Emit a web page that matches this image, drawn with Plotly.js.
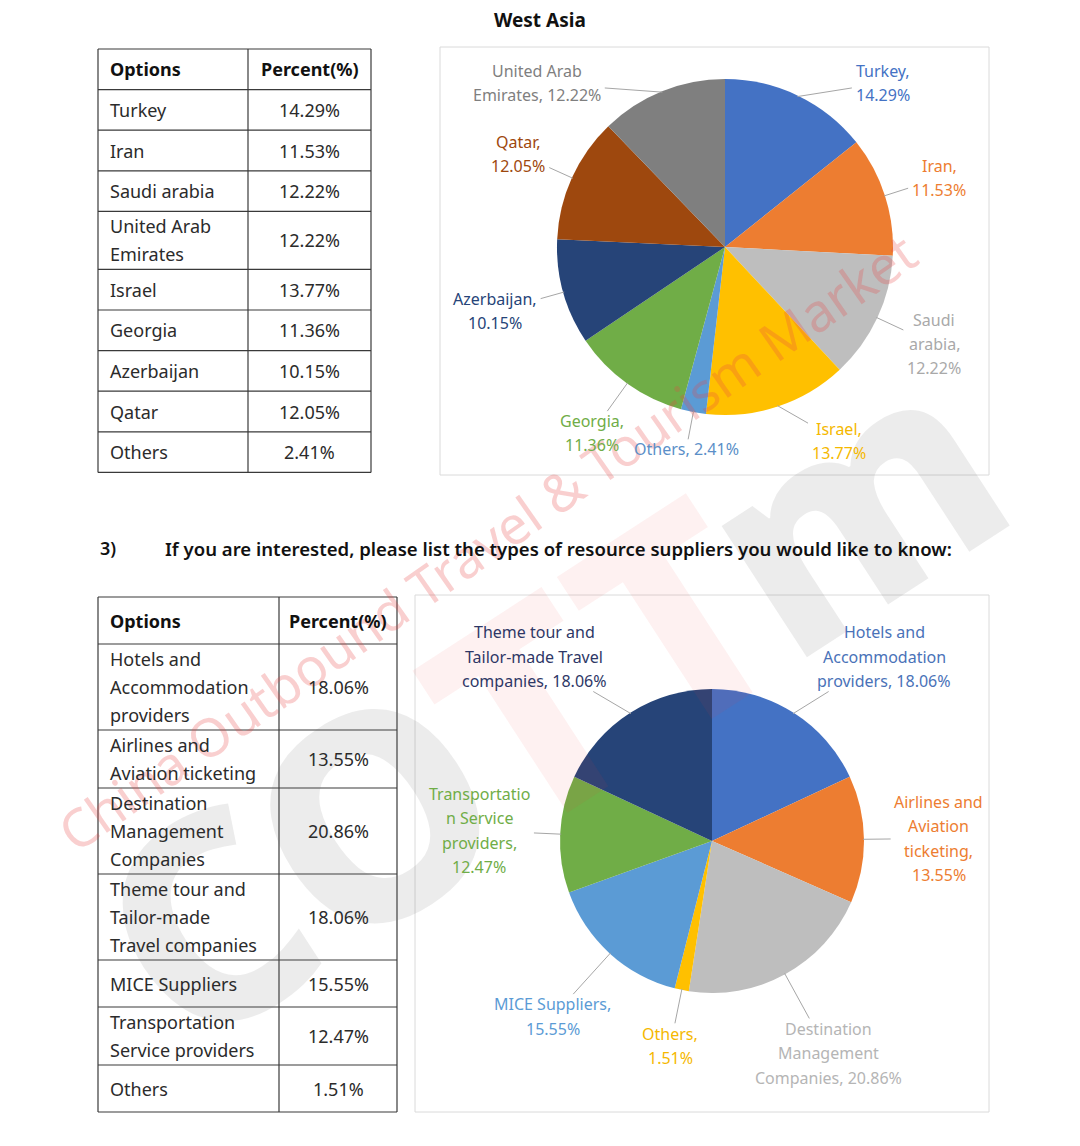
<!DOCTYPE html>
<html>
<head>
<meta charset="utf-8">
<script src="https://cdn.plot.ly/plotly-3.0.1.min.js"></script>
<style>html,body{margin:0;padding:0;background:#ffffff;}</style>
</head>
<body>
<div id="chart" style="width:1080px;height:1146px;"></div>
<script>
// ================= DATA =================
const pageTitle = 'West Asia';
const questionNumber = '3)';
const questionText = 'If you are interested, please list the types of resource suppliers you would like to know:';
const tableHeader = ['Options', 'Percent(%)'];
const watermarkText = 'China Outbound Travel & Tourism Market';

// West Asia – table (table order)
const westTableOptions = ['Turkey', 'Iran', 'Saudi arabia', 'United Arab<br>Emirates', 'Israel', 'Georgia', 'Azerbaijan', 'Qatar', 'Others'];
const westTableValues  = [14.29, 11.53, 12.22, 12.22, 13.77, 11.36, 10.15, 12.05, 2.41];

// West Asia – pie (clockwise from 12 o'clock)
const westPieNames  = ['Turkey', 'Iran', 'Saudi arabia', 'Israel', 'Others', 'Georgia', 'Azerbaijan', 'Qatar', 'United Arab Emirates'];
const westPieValues = [14.29, 11.53, 12.22, 13.77, 2.41, 11.36, 10.15, 12.05, 12.22];
const westPieLabels = ['Turkey,<br>', 'Iran,<br>', 'Saudi<br>arabia,<br>', 'Israel,<br>', 'Others, ', 'Georgia,<br>', 'Azerbaijan,<br>', 'Qatar,<br>', 'United Arab<br>Emirates, '];
const westPieColors = ['#4472C4', '#ED7D31', '#BEBEBE', '#FFC000', '#5B9BD5', '#70AD47', '#264478', '#9E480E', '#7F7F7F'];
const westLabelColors = ['#4472C4', '#ED7D31', '#A9A9A9', '#F5B800', '#5B8FC8', '#70AD47', '#264478', '#9E480E', '#7F7F7F'];

// Resource suppliers – table (table order)
const supTableOptions = ['Hotels and<br>Accommodation<br>providers', 'Airlines and<br>Aviation ticketing', 'Destination<br>Management<br>Companies', 'Theme tour and<br>Tailor-made<br>Travel companies', 'MICE Suppliers', 'Transportation<br>Service providers', 'Others'];
const supTableValues  = [18.06, 13.55, 20.86, 18.06, 15.55, 12.47, 1.51];

// Resource suppliers – pie (clockwise from 12 o'clock)
const supPieNames  = ['Hotels and Accommodation providers', 'Airlines and Aviation ticketing', 'Destination Management Companies', 'Others', 'MICE Suppliers', 'Transportation Service providers', 'Theme tour and Tailor-made Travel companies'];
const supPieValues = [18.06, 13.55, 20.86, 1.51, 15.55, 12.47, 18.06];
const supPieLabels = ['Hotels and<br>Accommodation<br>providers, ', 'Airlines and<br>Aviation<br>ticketing,<br>', 'Destination<br>Management<br>Companies, ', 'Others,<br>', 'MICE Suppliers,<br>', 'Transportatio<br>n Service<br>providers,<br>', 'Theme tour and<br>Tailor-made Travel<br>companies, '];
const supPieColors = ['#4472C4', '#ED7D31', '#BEBEBE', '#FFC000', '#5B9BD5', '#70AD47', '#264478'];
const supLabelColors = ['#4A72B8', '#ED7D31', '#B5B5B5', '#F5B800', '#5B9BD5', '#70AD47', '#2E3766'];

// ================= LAYOUT HELPERS =================
const W = 1080, H = 1146;
const X = px => px / W;
const Y = py => 1 - py / H;
const fmt = v => v.toFixed(2) + '%';
const FONT = '"Noto Sans", "DejaVu Sans", sans-serif';

const ctx = document.createElement('canvas').getContext('2d');
function textW(s, size, weight) {
  ctx.font = (weight || 400) + ' ' + size + 'px "Noto Sans"';
  return ctx.measureText(s).width;
}

const shapes = [];
const annotations = [];

function addText(px, py, text, size, color, weight, xanchor) {
  annotations.push({
    xref: 'paper', yref: 'paper', x: X(px), y: Y(py),
    xanchor: xanchor || 'center', yanchor: 'middle',
    text: text, showarrow: false,
    font: {family: FONT, size: size, color: color, weight: weight || 400}
  });
}
function addLine(x0, y0, x1, y1, color, width) {
  shapes.push({type: 'line', xref: 'paper', yref: 'paper', x0: X(x0), y0: Y(y0), x1: X(x1), y1: Y(y1),
    line: {color: color, width: width}});
}
function addRect(x0, y0, x1, y1, color, width) {
  shapes.push({type: 'rect', xref: 'paper', yref: 'paper', x0: X(x0), y0: Y(y0), x1: X(x1), y1: Y(y1),
    line: {color: color, width: width}, fillcolor: 'rgba(0,0,0,0)', layer: 'below'});
}

// ---- watermark ----
annotations.push({
  xref: 'paper', yref: 'paper', x: X(545), y: Y(695), xanchor: 'center', yanchor: 'middle', showarrow: false,
  textangle: -33,
  text: "<span style='color:rgba(110,110,110,0.36)'>CO</span><span style='color:rgba(235,60,60,0.20)'>TT</span><span style='color:rgba(110,110,110,0.36)'>m</span>",
  font: {family: FONT, size: 285, weight: 800, color: 'rgba(110,110,110,0.36)'}
});
annotations.push({
  xref: 'paper', yref: 'paper', x: X(487), y: Y(542), xanchor: 'center', yanchor: 'middle', showarrow: false,
  textangle: -35, text: watermarkText,
  font: {family: FONT, size: 53, color: 'rgba(232,70,70,0.26)'}
});

// ---- tables ----
function drawTable(tb, options, values) {
  const rows = [[tableHeader[0], tableHeader[1], true]].concat(options.map((o, i) => [o, fmt(values[i]), false]));
  let y = tb.y0;
  const bounds = [y];
  rows.forEach(r => {
    const lines = r[0].split('<br>');
    const h = Math.max(tb.minH, 2 + tb.lineH * lines.length);
    const mid = y + h / 2;
    const col = r[2] ? '#111111' : '#2b2b2b';
    lines.forEach((ln, k) => {
      addText(tb.x0 + 10, mid + (k - (lines.length - 1) / 2) * tb.lineH, ln, tb.size, col, r[2] ? 700 : 400, 'left');
    });
    addText((tb.xd + tb.x1) / 2, mid, r[1], tb.size, col, r[2] ? 700 : 400, 'center');
    y += h;
    bounds.push(y);
  });
  bounds.forEach(b => addLine(tb.x0, b, tb.x1, b, '#3a3a3a', 1.2));
  addLine(tb.x0, tb.y0, tb.x0, y, '#3a3a3a', 1.2);
  addLine(tb.xd, tb.y0, tb.xd, y, '#3a3a3a', 1.2);
  addLine(tb.x1, tb.y0, tb.x1, y, '#3a3a3a', 1.2);
}
drawTable({x0: 98, xd: 248, x1: 371, y0: 49, minH: 40.6, lineH: 28, size: 18}, westTableOptions, westTableValues);
drawTable({x0: 98, xd: 279, x1: 397, y0: 597, minH: 47, lineH: 28, size: 18}, supTableOptions, supTableValues);

// ---- page texts ----
addText(540, 20, pageTitle, 19, '#111111', 700, 'center');
addText(98, 548, questionNumber, 18, '#111111', 600, 'left');
const qSize = 16.5 * 787 / textW(questionText, 16.5, 600);
addText(163, 548, questionText, qSize, '#111111', 600, 'left');

// ---- chart frames ----
const box1 = {x0: 440, y0: 47, x1: 989, y1: 475};
const box2 = {x0: 415, y0: 595, x1: 989, y1: 1112};
addRect(box1.x0, box1.y0, box1.x1, box1.y1, '#DADADA', 1);
addRect(box2.x0, box2.y0, box2.x1, box2.y1, '#DADADA', 1);

// ---- pies ----
const pie1 = {cx: 725, cy: 247, r: 168};
const pie2 = {cx: 712, cy: 841, r: 152};

function pieTrace(pie, names, values, colors) {
  return {
    type: 'pie', labels: names, values: values, sort: false, direction: 'clockwise', rotation: 0,
    marker: {colors: colors, line: {color: '#ffffff', width: 0}},
    textinfo: 'none', hoverinfo: 'label+percent', showlegend: false,
    domain: {x: [X(pie.cx - pie.r), X(pie.cx + pie.r)], y: [Y(pie.cy + pie.r), Y(pie.cy - pie.r)]}
  };
}

function rectDist(cx, cy, hw, hh, px, py) {
  const nx = Math.min(Math.max(px, cx - hw), cx + hw);
  const ny = Math.min(Math.max(py, cy - hh), cy + hh);
  return Math.hypot(px - nx, py - ny);
}

function pieLabels(pie, values, texts, colors, box, opt) {
  const total = values.reduce((a, b) => a + b, 0);
  let cum = 0;
  values.forEach((v, i) => {
    const th = (cum + v / 2) / total * 2 * Math.PI;
    cum += v;
    const ux = Math.sin(th), uy = -Math.cos(th);
    const lines = (texts[i] + fmt(v)).split('<br>');
    const w = Math.max.apply(null, lines.map(s => textW(s, opt.size)));
    const hw = w / 2 + 2, hh = lines.length * opt.lineH / 2;
    let cx = pie.cx, cy = pie.cy;
    for (let R = pie.r; R < pie.r * 3; R += 1) {
      cx = pie.cx + ux * R;
      cy = pie.cy + uy * R;
      cy = Math.max(cy, box.y0 + opt.topPad + hh);
      cy = Math.min(cy, box.y1 - 10 - hh);
      if (rectDist(cx, cy, hw, hh, pie.cx, pie.cy) >= pie.r + opt.gap) break;
    }
    lines.forEach((ln, k) => addText(cx, cy + (k - (lines.length - 1) / 2) * opt.lineH, ln, opt.size, colors[i], 400, 'center'));
    // leader line
    const px = pie.cx + ux * (pie.r - 1), py = pie.cy + uy * (pie.r - 1);
    const dx = px - cx, dy = py - cy;
    const t = Math.min(Math.abs(dx) > 1e-6 ? (hw + 2) / Math.abs(dx) : 1e9, Math.abs(dy) > 1e-6 ? (hh - 2) / Math.abs(dy) : 1e9);
    const qx = cx + dx * t, qy = cy + dy * t;
    if (Math.hypot(px - qx, py - qy) > 9) addLine(px, py, qx, qy, '#A6A6A6', 1);
  });
}

pieLabels(pie1, westPieValues, westPieLabels, westLabelColors, box1, {gap: 22, size: 16, lineH: 24, topPad: 12});
pieLabels(pie2, supPieValues, supPieLabels, supLabelColors, box2, {gap: 28, size: 16, lineH: 24.5, topPad: 25});

const data = [
  pieTrace(pie1, westPieNames, westPieValues, westPieColors),
  pieTrace(pie2, supPieNames, supPieValues, supPieColors)
];

const layout = {
  width: W, height: H,
  margin: {l: 0, r: 0, t: 0, b: 0, pad: 0},
  paper_bgcolor: '#ffffff', plot_bgcolor: '#ffffff',
  showlegend: false,
  font: {family: FONT, size: 15, color: '#222'},
  shapes: shapes,
  annotations: annotations
};

Plotly.newPlot('chart', data, layout, {staticPlot: true, displayModeBar: false});
</script>
</body>
</html>
